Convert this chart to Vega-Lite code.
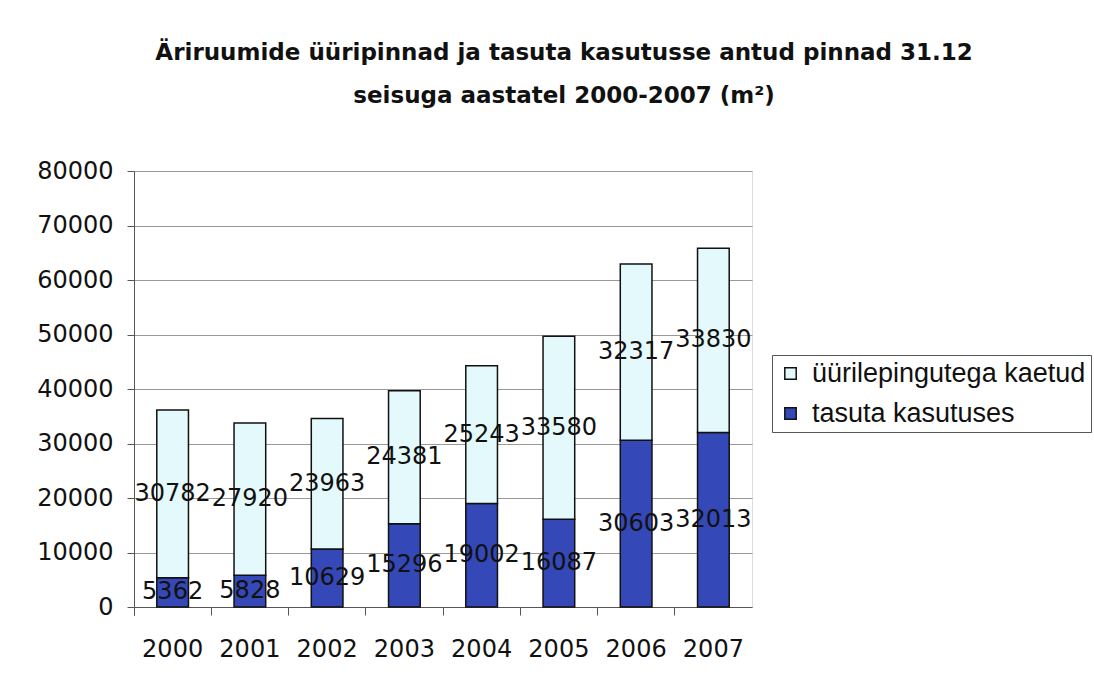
{
  "$schema": "https://vega.github.io/schema/vega-lite/v6.json",
  "autosize": {"type": "none"},
  "width": 618,
  "height": 436,
  "padding": {"left": 134, "top": 171, "right": 342, "bottom": 78},
  "background": "white",
  "title": {
    "text": ["Äriruumide üüripinnad ja tasuta kasutusse antud pinnad 31.12", "seisuga aastatel 2000-2007 (m²)"],
    "font": "DejaVu Sans",
    "fontWeight": "bold",
    "fontSize": 23,
    "lineHeight": 43,
    "color": "#111",
    "anchor": "middle",
    "frame": "bounds",
    "offset": 51
  },
  "data": {
    "values": [
      {"year": "2000", "series": "tasuta kasutuses", "value": 5362},
      {"year": "2000", "series": "üürilepingutega kaetud", "value": 30782},
      {"year": "2001", "series": "tasuta kasutuses", "value": 5828},
      {"year": "2001", "series": "üürilepingutega kaetud", "value": 27920},
      {"year": "2002", "series": "tasuta kasutuses", "value": 10629},
      {"year": "2002", "series": "üürilepingutega kaetud", "value": 23963},
      {"year": "2003", "series": "tasuta kasutuses", "value": 15296},
      {"year": "2003", "series": "üürilepingutega kaetud", "value": 24381},
      {"year": "2004", "series": "tasuta kasutuses", "value": 19002},
      {"year": "2004", "series": "üürilepingutega kaetud", "value": 25243},
      {"year": "2005", "series": "tasuta kasutuses", "value": 16087},
      {"year": "2005", "series": "üürilepingutega kaetud", "value": 33580},
      {"year": "2006", "series": "tasuta kasutuses", "value": 30603},
      {"year": "2006", "series": "üürilepingutega kaetud", "value": 32317},
      {"year": "2007", "series": "tasuta kasutuses", "value": 32013},
      {"year": "2007", "series": "üürilepingutega kaetud", "value": 33830}
    ]
  },
  "transform": [
    {"stack": "value", "groupby": ["year"], "sort": [{"field": "series", "order": "ascending"}], "as": ["v0", "v1"]},
    {"calculate": "(datum.v0 + datum.v1) / 2", "as": "vmid"}
  ],
  "encoding": {
    "x": {
      "field": "year",
      "type": "ordinal",
      "scale": {"paddingInner": 0, "paddingOuter": 0},
      "axis": {
        "title": null,
        "labelAngle": 0,
        "labelFont": "DejaVu Sans",
        "labelFontSize": 24,
        "labelColor": "#111",
        "labelPadding": 22,
        "tickSize": 8,
        "tickColor": "#555",
        "domainColor": "#555",
        "bandPosition": 0,
        "tickExtra": true,
        "grid": false
      }
    }
  },
  "layer": [
    {
      "mark": {"type": "bar", "width": {"band": 0.41}, "stroke": "#111", "strokeWidth": 1.5},
      "encoding": {
        "y": {
          "field": "v1",
          "type": "quantitative",
          "scale": {"domain": [0, 80000]},
          "axis": {
            "title": null,
            "values": [0, 10000, 20000, 30000, 40000, 50000, 60000, 70000, 80000],
            "format": "d",
            "labelFont": "DejaVu Sans",
            "labelFontSize": 24,
            "labelColor": "#111",
            "labelPadding": 14,
            "tickSize": 7,
            "tickColor": "#555",
            "domainColor": "#555",
            "gridColor": "#999",
            "gridWidth": 1
          }
        },
        "y2": {"field": "v0"},
        "color": {
          "field": "series",
          "type": "nominal",
          "scale": {"domain": ["üürilepingutega kaetud", "tasuta kasutuses"], "range": ["#e4f9fc", "#3548b8"]},
          "legend": {
            "title": null,
            "orient": "none",
            "legendX": 638,
            "legendY": 184,
            "direction": "vertical",
            "strokeColor": "#555",
            "padding": 5,
            "symbolType": "square",
            "symbolSize": 130,
            "symbolStrokeColor": "#111",
            "symbolStrokeWidth": 1.5,
            "labelFont": "Liberation Sans",
            "labelFontSize": 27,
            "labelColor": "#111",
            "labelOffset": 8,
            "rowPadding": 12,
            "labelLimit": 400
          }
        }
      }
    },
    {
      "mark": {"type": "text", "font": "DejaVu Sans", "fontSize": 24, "color": "#111", "baseline": "middle"},
      "encoding": {
        "y": {"field": "vmid", "type": "quantitative"},
        "text": {"field": "value", "type": "quantitative", "format": "d"}
      }
    }
  ]
}
